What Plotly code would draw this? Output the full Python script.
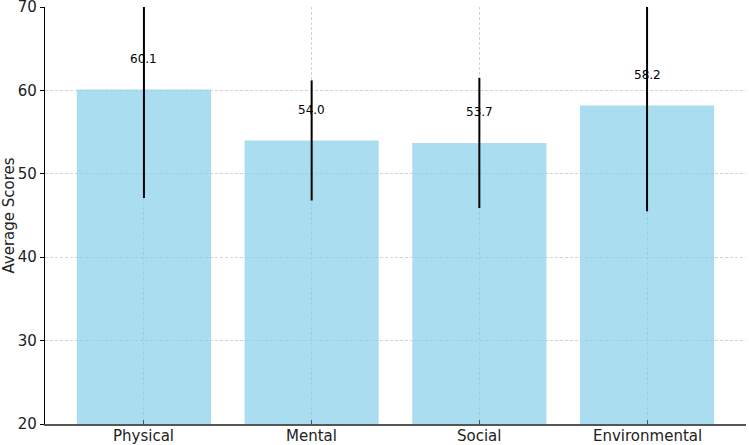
import plotly.graph_objects as go

categories = ["Physical", "Mental", "Social", "Environmental"]
scores = [60.1, 54.0, 53.7, 58.2]
errors = [13.0, 7.2, 7.8, 12.7]
y_ticks = [20, 30, 40, 50, 60, 70]

font_family = "DejaVu Sans"

fig = go.Figure()
fig.add_trace(go.Bar(
    x=list(range(len(categories))),
    y=scores,
    width=0.8,
    marker=dict(color="rgba(135,206,235,0.7)", line=dict(width=0)),
    error_y=dict(type="data", array=errors, visible=True,
                 color="black", thickness=2, width=0),
    showlegend=False,
    hoverinfo="skip",
))

for i, v in enumerate(scores):
    fig.add_annotation(
        x=i, y=v + 3.7, text=f"{v:.1f}", showarrow=False,
        xanchor="center", yanchor="middle",
        font=dict(family=font_family, size=12, color="black"),
    )

# category labels placed just below the x axis
for i, c in enumerate(categories):
    fig.add_annotation(
        x=i, xref="x", y=0, yref="paper", text=c, showarrow=False,
        xanchor="center", yanchor="top", yshift=-1,
        font=dict(family=font_family, size=15, color="#222"),
    )

fig.update_layout(
    width=749, height=445,
    margin=dict(l=45, r=3, t=7, b=21, autoexpand=False),
    paper_bgcolor="white", plot_bgcolor="white",
    font=dict(family=font_family, size=15, color="#222"),
    bargap=0.2,
)
fig.update_xaxes(
    range=[-0.59, 3.59],
    tickmode="array", tickvals=list(range(len(categories))),
    showticklabels=False,
    showgrid=True, gridcolor="#d3d3d3", griddash="3px,2px", gridwidth=0.8,
    showline=True, linecolor="#555555", linewidth=2,
    ticks="inside", ticklen=4, tickcolor="#555555", tickwidth=1,
    zeroline=False, automargin=False,
)
fig.update_yaxes(
    range=[20, 70],
    tickmode="array", tickvals=y_ticks,
    showgrid=True, gridcolor="#d3d3d3", griddash="3px,2px", gridwidth=0.8,
    showline=True, linecolor="black", linewidth=1.3,
    ticks="outside", ticklen=4, tickcolor="black", tickwidth=1,
    ticklabeloverflow="allow",
    tickfont=dict(family=font_family, size=15, color="#222"),
    title=dict(text="Average Scores", font=dict(family=font_family, size=15, color="#222"), standoff=4),
    zeroline=False, automargin=False,
)

fig.write_html("out.html", config={"displayModeBar": False},
               post_script="document.body.style.margin='0';")
